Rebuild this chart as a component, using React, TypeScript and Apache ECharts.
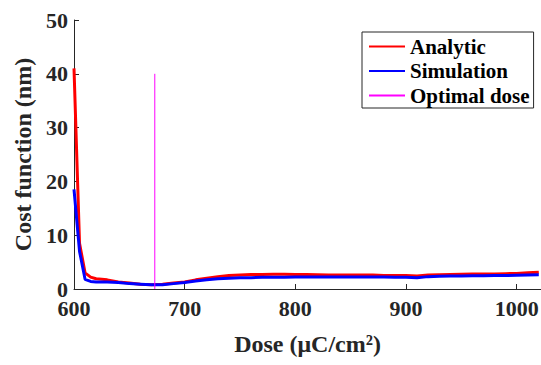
import React, { useEffect, useRef } from "react";
import * as echarts from "echarts";

const doses = [600, 605, 610, 615, 620, 630, 640, 650, 660, 670, 680, 690, 700, 710, 720, 730, 740, 750, 760, 770, 780, 790, 800, 810, 820, 830, 840, 850, 860, 870, 880, 890, 900, 910, 920, 930, 940, 950, 960, 970, 980, 990, 1000, 1010, 1020];
const analytic = [41, 8.5, 3, 2.2, 1.9, 1.7, 1.3, 1.1, 0.9, 0.8, 0.9, 1.1, 1.3, 1.7, 2.0, 2.3, 2.5, 2.6, 2.7, 2.7, 2.75, 2.75, 2.7, 2.7, 2.65, 2.6, 2.6, 2.6, 2.6, 2.6, 2.5, 2.5, 2.5, 2.4, 2.6, 2.65, 2.7, 2.75, 2.8, 2.8, 2.8, 2.85, 2.9, 3.0, 3.1];
const simulation = [18.5, 7, 1.8, 1.4, 1.3, 1.3, 1.2, 1.0, 0.9, 0.8, 0.8, 1.0, 1.2, 1.5, 1.7, 1.9, 2.0, 2.1, 2.1, 2.2, 2.2, 2.2, 2.25, 2.25, 2.25, 2.25, 2.25, 2.25, 2.25, 2.25, 2.25, 2.2, 2.2, 2.1, 2.3, 2.35, 2.4, 2.4, 2.45, 2.45, 2.5, 2.5, 2.55, 2.6, 2.65];
const optimalDose = 673;
const optimalRange = [0, 40];
const seriesNames = ["Analytic", "Simulation", "Optimal dose"];

const FONT = "Liberation Serif, serif";
const AXIS_COLOR = "#262626";

export default function App() {
  const ref = useRef<HTMLDivElement>(null);
  useEffect(() => {
    if (!ref.current) return;
    const chart = echarts.init(ref.current, undefined, { renderer: "svg" });
    chart.setOption({
      animation: false,
      backgroundColor: "#ffffff",
      grid: { left: 74, top: 20, right: 0, bottom: 76, containLabel: false, outerBoundsMode: "none" },
      legend: {
        orient: "vertical",
        left: 362,
        top: 32,
        padding: [4, 4, 2, 6],
        itemGap: 3.5,
        itemWidth: 36,
        itemHeight: 14,
        backgroundColor: "#ffffff",
        borderColor: AXIS_COLOR,
        borderWidth: 1,
        data: seriesNames,
        itemStyle: { opacity: 0 },
        textStyle: { fontFamily: FONT, fontWeight: 700, fontSize: 21, color: "#000" },
      },
      xAxis: {
        type: "value",
        min: 600,
        max: 1022,
        interval: 100,
        name: "Dose (μC/cm²)",
        nameLocation: "middle",
        nameGap: 43,
        nameTextStyle: { fontFamily: FONT, fontWeight: 700, fontSize: 24, color: AXIS_COLOR },
        axisLine: { show: true, lineStyle: { color: AXIS_COLOR, width: 1 } },
        axisTick: { show: true, inside: true, length: 5, lineStyle: { color: AXIS_COLOR } },
        axisLabel: {
          fontFamily: FONT,
          fontWeight: 700,
          fontSize: 22,
          color: AXIS_COLOR,
          margin: 8,
          showMaxLabel: false,
          formatter: (v: number) => String(v),
        },
        splitLine: { show: false },
      },
      yAxis: {
        type: "value",
        min: 0,
        max: 50,
        interval: 10,
        name: "Cost function (nm)",
        nameLocation: "middle",
        nameGap: 36,
        nameTextStyle: { fontFamily: FONT, fontWeight: 700, fontSize: 24, color: AXIS_COLOR },
        axisLine: { show: true, lineStyle: { color: AXIS_COLOR, width: 1 } },
        axisTick: { show: true, inside: true, length: 5, lineStyle: { color: AXIS_COLOR } },
        axisLabel: { fontFamily: FONT, fontWeight: 700, fontSize: 22, color: AXIS_COLOR, margin: 6 },
        splitLine: { show: false },
      },
      series: [
        { name: seriesNames[0], type: "line", data: doses.map((d, i) => [d, analytic[i]]), symbol: "none", lineStyle: { color: "#ff0000", width: 3 }, itemStyle: { color: "#ff0000" } },
        { name: seriesNames[1], type: "line", data: doses.map((d, i) => [d, simulation[i]]), symbol: "none", lineStyle: { color: "#0000ff", width: 3 }, itemStyle: { color: "#0000ff" } },
        { name: seriesNames[2], type: "line", data: optimalRange.map((v) => [optimalDose, v]), symbol: "none", lineStyle: { color: "#ff00ff", width: 1 }, itemStyle: { color: "#ff00ff" } },
      ],
    });
    return () => chart.dispose();
  }, []);
  return <div ref={ref} style={{ width: 541, height: 365, position: "absolute", left: 0, top: 0 }} />;
}
